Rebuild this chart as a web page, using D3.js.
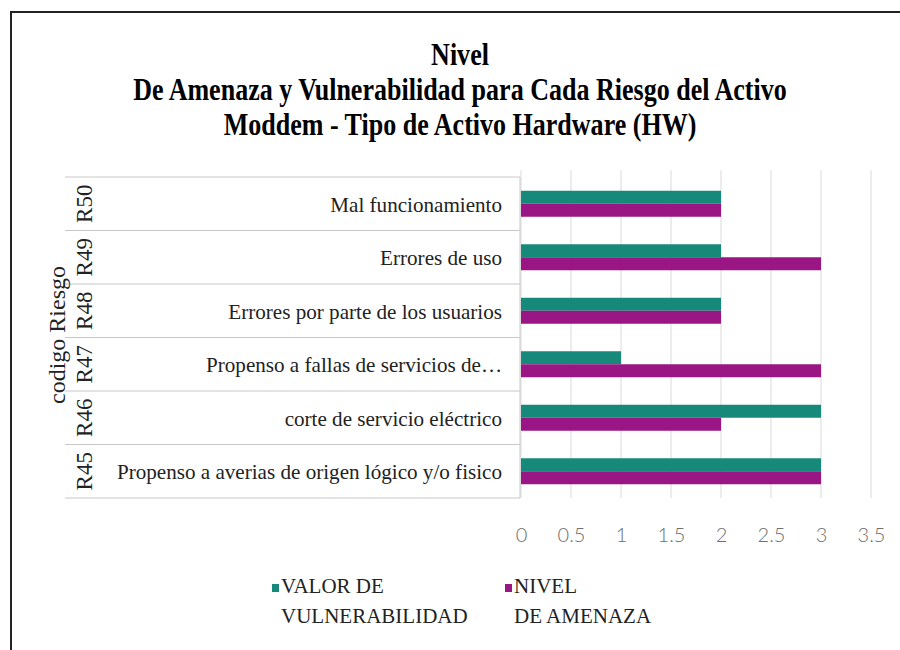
<!DOCTYPE html>
<html>
<head>
<meta charset="utf-8">
<script src="https://cdn.jsdelivr.net/npm/d3@7"></script>
</head>
<body style="margin:0">
<script>
// data
var codes = ["R45", "R46", "R47", "R48", "R49", "R50"];
var riskLabels = [
    "Propenso a averias de origen lógico y/o fisico",
    "corte de servicio eléctrico",
    "Propenso a fallas  de servicios de…",
    "Errores por parte de los usuarios",
    "Errores de uso",
    "Mal funcionamiento"
];
var vulnerabilidad = [3, 3, 1, 2, 2, 2];
var amenaza = [3, 2, 3, 2, 3, 2];
var xTicks = [0, 0.5, 1, 1.5, 2, 2.5, 3, 3.5];
var titleLines = [
    "Nivel",
    "De Amenaza y Vulnerabilidad para Cada Riesgo del Activo",
    "Moddem - Tipo de Activo Hardware (HW)"
];
var seriesNames = [["VALOR DE", "VULNERABILIDAD"], ["NIVEL", "DE AMENAZA"]];
var colors = ["#16897a", "#9b1685"];

var serif = "'Liberation Serif'";

var svgWidth = 900, svgHeight = 650;
var svg = d3.select("body").append("svg")
    .attr("width", svgWidth)
    .attr("height", svgHeight);

// frame (only top and left edges visible in the picture)
svg.append("path")
    .attr("d", "M11,651 L11,12 L901,12")
    .attr("fill", "none")
    .attr("stroke", "#222")
    .attr("stroke-width", 2);

// title, a narrow bold serif
svg.append("g").selectAll("text")
    .data(titleLines)
    .enter()
    .append("text")
    .attr("transform", (d, i) => `translate(460, ${65 + i * 35}) rotate(-0.01) scale(0.84, 1)`)
    .attr("text-anchor", "middle")
    .style("font-family", serif)
    .attr("font-size", "31px")
    .attr("font-weight", "bold")
    .text(d => d);

var rows = codes.map((c, i) => ({
    code: c, label: riskLabels[i], v: vulnerabilidad[i], a: amenaza[i]
}));

var x = d3.scaleLinear().domain([0, 3.5]).range([521, 871]);
var y = d3.scaleBand()
    .domain(codes.slice().reverse())
    .range([177, 498]);

// gridlines
svg.append("g").selectAll("line")
    .data(xTicks)
    .enter()
    .append("line")
    .attr("x1", d => x(d)).attr("x2", d => x(d))
    .attr("y1", 170).attr("y2", 498)
    .attr("stroke", "#d9d9d9")
    .attr("stroke-width", 1);

// category table lines
var tableLines = codes.slice().reverse().map(c => y(c)).concat([y.range()[1]]);
svg.append("g").selectAll("line")
    .data(tableLines)
    .enter()
    .append("line")
    .attr("x1", 65).attr("x2", 520)
    .attr("y1", d => d).attr("y2", d => d)
    .attr("stroke", "#c8c8c8");
svg.append("line")
    .attr("x1", 520).attr("x2", 520)
    .attr("y1", 177).attr("y2", 498)
    .attr("stroke", "#c8c8c8");

// bars
var bh = 13;
var barG = svg.append("g");
barG.selectAll("rect.vul")
    .data(rows)
    .enter()
    .append("rect")
    .attr("class", "vul")
    .attr("x", x(0))
    .attr("y", d => y(d.code) + y.bandwidth() / 2 - bh)
    .attr("width", d => x(d.v) - x(0))
    .attr("height", bh)
    .attr("fill", colors[0]);
barG.selectAll("rect.ame")
    .data(rows)
    .enter()
    .append("rect")
    .attr("class", "ame")
    .attr("x", x(0))
    .attr("y", d => y(d.code) + y.bandwidth() / 2)
    .attr("width", d => x(d.a) - x(0))
    .attr("height", bh)
    .attr("fill", colors[1]);

// risk labels
svg.append("g").selectAll("text")
    .data(rows)
    .enter()
    .append("text")
    .attr("transform", d => `translate(502, ${y(d.code) + y.bandwidth() / 2 + 8}) rotate(-0.01) scale(0.96, 1)`)
    .attr("text-anchor", "end")
    .style("font-family", serif)
    .attr("font-size", "22px")
    .attr("fill", "#222")
    .text(d => d.label);

// risk codes (rotated)
svg.append("g").selectAll("text")
    .data(rows)
    .enter()
    .append("text")
    .attr("transform", d => `translate(92, ${y(d.code) + y.bandwidth() / 2}) rotate(-90)`)
    .attr("text-anchor", "middle")
    .style("font-family", serif)
    .attr("font-size", "23px")
    .attr("fill", "#222")
    .text(d => d.code);

// axis title
svg.append("text")
    .attr("transform", "translate(65, 335) rotate(-90)")
    .attr("text-anchor", "middle")
    .style("font-family", serif)
    .attr("font-size", "24px")
    .attr("fill", "#222")
    .text("codigo Riesgo");

// x axis
var xAxis = d3.axisBottom(x)
    .tickValues(xTicks)
    .tickSize(0)
    .tickPadding(0)
    .tickFormat(d3.format("~g"));
var axisG = svg.append("g")
    .attr("transform", "translate(0, 542)")
    .call(xAxis);
axisG.select(".domain").remove();
axisG.selectAll("text")
    .attr("dy", 0)
    .style("font-family", "Lato")
    .attr("font-weight", 300)
    .attr("font-size", "20px")
    .attr("fill", "#6f6f6f");

// legend
var legendX = [272, 505];
var legend = svg.append("g").selectAll("g")
    .data(seriesNames)
    .enter()
    .append("g")
    .attr("transform", (d, i) => `translate(${legendX[i]}, 0)`);
legend.append("rect")
    .attr("x", 0).attr("y", 584)
    .attr("width", 7).attr("height", 8)
    .attr("fill", (d, i) => colors[i]);
legend.selectAll("text")
    .data(d => d)
    .enter()
    .append("text")
    .attr("transform", (d, i) => `translate(9, ${593 + i * 30}) rotate(-0.01)`)
    .style("font-family", serif)
    .attr("font-size", "21px")
    .attr("fill", "#222")
    .text(d => d);
</script>
</body>
</html>
